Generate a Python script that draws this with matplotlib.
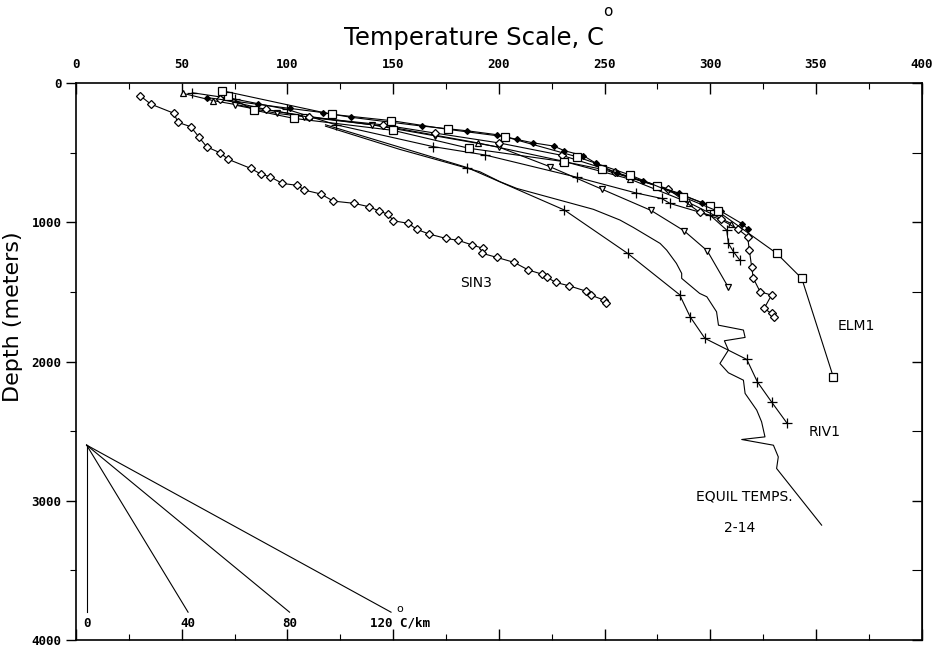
import matplotlib
matplotlib.use("Agg")
import matplotlib.pyplot as plt
import matplotlib.ticker as mtick

# ── data (temperature C, depth m) ────────────────────────────────────────────

SIN3_T = [30.3, 35.3, 46.4, 48.1, 54.3, 58.2, 61.8, 68.1, 72.0, 82.6, 87.7,
          91.8, 97.6, 104.7, 108.0, 115.8, 121.7, 131.5, 138.7, 143.5, 147.7,
          150.1, 157.2, 161.2, 167.1, 175.0, 180.8, 187.2, 192.4, 192.1, 199.0,
          207.2, 214.0, 220.3, 222.9, 226.9, 233.2, 241.1, 243.5, 249.8, 250.7]
SIN3_D = [91, 151, 218, 282, 314, 390, 458, 501, 548, 613, 656,
          673, 721, 735, 769, 797, 848, 864, 889, 920, 943,
          989, 1008, 1051, 1085, 1116, 1130, 1162, 1187, 1223, 1252,
          1288, 1343, 1372, 1396, 1432, 1456, 1494, 1523, 1559, 1583]

ELM1_T = [69, 121, 149, 176, 203, 237, 262, 287, 303.5, 331.4, 343.3, 358.2]
ELM1_D = [55, 225, 270, 333, 386, 530, 660, 817, 920, 1223, 1403, 2110]

SQB_T = [72, 84, 103, 150, 186, 231, 249, 275, 300]
SQB_D = [95, 194, 254, 340, 469, 565, 620, 740, 880]

DOT_T = [62, 86, 101, 117, 130, 163.5, 185, 199, 208.5, 216, 226, 231, 240,
         246, 256, 268, 285, 296, 305, 315, 318]
DOT_D = [105, 153, 182, 213, 246, 309, 343, 371, 405, 429, 453, 486, 522,
         577, 649, 705, 790, 860, 920, 1010, 1050]

DIA_T = [68, 90, 110, 145, 170, 200, 230, 255, 280, 295, 305, 313.3, 317.7,
         318.5, 319.6, 320.4, 323.6, 329, 325.5, 329, 330.2]
DIA_D = [115, 190, 245, 300, 360, 430, 520, 640, 760, 929, 980, 1051, 1104,
         1200, 1320, 1403, 1499, 1523, 1619, 1655, 1683]

TRID_T = [75, 95, 108, 140, 170, 200, 224, 249, 272, 287.6, 298.6, 308.6]
TRID_D = [158, 218, 242, 300, 380, 460, 600, 764, 915, 1061, 1205, 1468]

TRIU_T = [50.5, 65, 85, 110, 150, 190, 230, 262, 290, 310]
TRIU_D = [74, 127, 180, 240, 320, 430, 560, 690, 860, 1010]

PLUS_T = [55, 75, 100, 123, 169, 193.5, 237, 265, 277, 281, 300, 307.8,
          308.6, 311, 314]
PLUS_D = [70, 115, 190, 300, 457, 517, 677, 790, 829, 865, 950, 1056,
          1152, 1212, 1272]

RIV1_T = [118, 185, 231, 261, 285.5, 290.5, 297.5, 317.3, 322.3, 329, 336.2]
RIV1_D = [300, 607, 912, 1224, 1520, 1679, 1834, 1985, 2146, 2290, 2440]

EQ_T = [118, 153, 191, 200.6, 208.5, 244.7, 257.3, 263.6, 276.3, 279.4, 284,
        286.5, 286.5, 295, 298.4, 303, 303.9, 315.7, 316.5, 306.7, 308.6,
        304.6, 308.6, 315.7, 316.5, 322, 324.3, 325.9, 314.9, 329.9, 332.2,
        331.4, 352.7]
EQ_D = [310, 476, 637, 709, 757, 907, 984, 1037, 1152, 1200, 1295,
        1367, 1403, 1511, 1535, 1643, 1739, 1774, 1827, 1851, 1918,
        2014, 2081, 2134, 2229, 2349, 2433, 2541, 2560, 2601, 2685,
        2768, 3175]

# gradient fan (C/km)
GRADIENTS = [0, 40, 80, 120]
FAN_T0, FAN_D0, FAN_D1 = 5, 2600, 3800

# ── style ─────────────────────────────────────────────────────────────────────

MONO = "DejaVu Sans Mono"
LW = 0.8
MS = 5

def series(ax, t, d, marker, ms=MS, fill="white", **kw):
    ax.plot(t, d, color="black", linewidth=LW, marker=marker,
            markersize=ms, markerfacecolor=fill, markeredgecolor="black",
            markeredgewidth=0.9, **kw)

# ── plot ──────────────────────────────────────────────────────────────────────

fig = plt.figure(figsize=(9.33, 6.48), dpi=100)
ax = fig.add_axes([0.0815, 0.0123, 0.9063, 0.8596])

series(ax, EQ_T, EQ_D, None)
series(ax, RIV1_T, RIV1_D, "+", ms=7, markevery=slice(1, None))
series(ax, PLUS_T, PLUS_D, "+", ms=7)
series(ax, TRIU_T, TRIU_D, "^")
series(ax, TRID_T, TRID_D, "v")
series(ax, DIA_T, DIA_D, "D", ms=4)
series(ax, DOT_T, DOT_D, "D", ms=3, fill="black")
series(ax, SQB_T, SQB_D, "s", ms=6)
series(ax, ELM1_T, ELM1_D, "s", ms=6)
series(ax, SIN3_T, SIN3_D, "D", ms=4.5)

for g in GRADIENTS:
    t_end = FAN_T0 + g * (FAN_D1 - FAN_D0) / 1000
    ax.plot([FAN_T0, t_end], [FAN_D0, FAN_D1], color="black", linewidth=LW)
    if g == GRADIENTS[-1]:
        ax.text(t_end - 10, 3880, f"{g} C/km", ha="left", va="center",
                family=MONO, fontsize=9, fontweight="bold")
        ax.text(t_end + 4, 3775, "o", ha="center", va="center",
                fontsize=8)
    else:
        ax.text(t_end, 3880, f"{g}", ha="center", va="center",
                family=MONO, fontsize=9, fontweight="bold")

ax.text(189, 1435, "SIN3", ha="center", va="center", fontsize=10)
ax.text(369, 1746, "ELM1", ha="center", va="center", fontsize=10)
ax.text(354, 2505, "RIV1", ha="center", va="center", fontsize=10)
ax.text(316, 2972, "EQUIL TEMPS.", ha="center", va="center", fontsize=10)
ax.text(314, 3192, "2-14", ha="center", va="center", fontsize=10)

ax.set_xlim(0, 400)
ax.set_ylim(4000, 0)

ax.xaxis.tick_top()
ax.xaxis.set_major_locator(mtick.MultipleLocator(50))
ax.xaxis.set_minor_locator(mtick.MultipleLocator(25))
ax.tick_params(axis="x", which="both", direction="in", top=True, bottom=True,
               labeltop=True, labelbottom=False, pad=9)
ax.tick_params(axis="x", which="major", length=8, width=1)
ax.tick_params(axis="x", which="minor", length=4, width=0.8)

ax.yaxis.set_major_locator(mtick.MultipleLocator(1000))
ax.yaxis.set_minor_locator(mtick.MultipleLocator(500))
ax.tick_params(axis="y", which="both", direction="out", left=True,
               right=False)
ax.tick_params(axis="y", which="major", length=7, width=1)
ax.tick_params(axis="y", which="minor", length=4, width=0.8)

right = ax.secondary_yaxis("right")
right.yaxis.set_major_locator(mtick.MultipleLocator(1000))
right.yaxis.set_minor_locator(mtick.MultipleLocator(500))
right.tick_params(which="both", direction="in", labelright=False)
right.tick_params(which="major", length=7, width=1)
right.tick_params(which="minor", length=7, width=0.8)

for lab in ax.get_xticklabels() + ax.get_yticklabels():
    lab.set_family(MONO)
    lab.set_fontweight("bold")
    lab.set_fontsize(9)

for sp in ax.spines.values():
    sp.set_linewidth(1.2)

ax.set_ylabel("Depth (meters)", fontsize=16)
ax.yaxis.set_label_coords(-0.063, 0.58)

fig.text(0.508, 0.941, "Temperature Scale, C", ha="center", va="center",
         fontsize=17.5)
fig.text(0.651, 0.982, "o", ha="center", va="center", fontsize=11)

fig.savefig("out.png", dpi=100)
